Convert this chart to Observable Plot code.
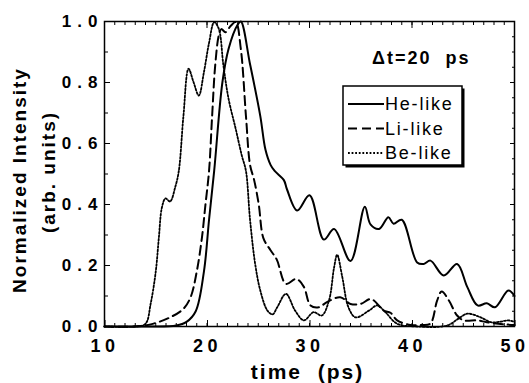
<!DOCTYPE html>
<html><head><meta charset="utf-8">
<script src="https://cdn.jsdelivr.net/npm/d3@7"></script>
<script src="https://cdn.jsdelivr.net/npm/@observablehq/plot@0.6"></script>
<style>
body{margin:0;background:#fff;}
#chart{width:529px;height:383px;}
</style></head><body><div id="chart"></div>
<script>
// He-like (solid)
const heTime=[10,14,17,18,18.9,19.7,20.2,20.7,21.5,22.1,23.0,23.3,24.2,25.2,25.7,26.2,26.6,27.5,27.8,28.8,30.0,31.4,32.4,34.0,35.4,35.95,36.8,37.7,38.2,39.0,40.5,41.15,41.8,43.1,44.4,45.4,46.4,47.3,48.1,49.4,50];
const heInt=[0,0,0.003,0.015,0.05,0.18,0.35,0.51,0.80,0.91,0.99,1.0,0.86,0.69,0.58,0.53,0.51,0.48,0.45,0.38,0.43,0.285,0.32,0.215,0.393,0.335,0.32,0.358,0.337,0.35,0.21,0.205,0.216,0.167,0.205,0.129,0.069,0.076,0.063,0.118,0.10];
// Li-like (dashed)
const liTime=[10,13,14.5,16.4,17.7,18.4,19.0,19.5,19.85,20.2,20.5,20.8,21.15,21.4,21.8,22.3,22.8,23.3,23.8,24.2,24.6,25.05,25.5,26.2,26.8,27.7,28.7,29.45,30.1,30.9,31.7,33.0,34.0,35.0,36.0,37.25,37.9,38.55,39.85,41.0,41.8,42.45,42.9,43.6,44.4,45.05,46.4,47.3,49.0,50];
const liInt=[0,0,0.007,0.03,0.058,0.096,0.18,0.29,0.40,0.51,0.69,0.856,0.954,0.975,0.965,0.985,0.998,0.91,0.69,0.53,0.48,0.40,0.29,0.25,0.22,0.14,0.156,0.13,0.069,0.063,0.08,0.096,0.074,0.074,0.09,0.052,0.045,0.02,0.005,0.005,0.01,0.085,0.115,0.085,0.036,0.02,0.02,0.014,0.007,0.005];
// Be-like (dotted)
const beTime=[10,13,14.0,14.5,15.0,15.3,15.6,15.95,16.4,16.9,17.25,17.7,18.2,18.7,19.2,19.7,20.2,20.7,21.15,21.6,22.1,22.8,23.4,23.8,24.2,24.7,25.2,25.9,26.4,26.85,27.7,28.6,29.45,30.4,31.2,31.9,32.4,32.7,33.2,33.8,34.5,35.8,36.6,37.4,38.55,40.5,43.4,44.5,45.4,46.7,47.7,48.5,49.4,50];
const beInt=[0,0,0.009,0.074,0.18,0.29,0.39,0.42,0.41,0.457,0.51,0.69,0.845,0.80,0.757,0.834,0.93,0.998,0.976,0.856,0.747,0.648,0.56,0.51,0.35,0.205,0.118,0.052,0.04,0.063,0.107,0.052,0.02,0.047,0.036,0.085,0.194,0.235,0.162,0.063,0.03,0.052,0.069,0.047,0.009,0.0,0.003,0.025,0.042,0.03,0.014,0.015,0.02,0.015];

const seriesNames=["He-like","Li-like","Be-like"];
const yMajor=[0,0.2,0.4,0.6,0.8,1.0];
const xMajor=[10,20,30,40,50];
const annotation="\u0394t=20\u00a0\u00a0ps";
const xLabel="time\u00a0\u00a0(ps)";
const yLabelLines=["Normalized Intensity","(arb. units)"];

const dashes={"He-like":null,"Li-like":"9,5","Be-like":"1.8,1.8"};
const widths={"He-like":2,"Li-like":2,"Be-like":1.8};

function rows(t,v,name){return t.map((x,i)=>({time:x,intensity:v[i],series:name}));}
const heRows=rows(heTime,heInt,"He-like");
const liRows=rows(liTime,liInt,"Li-like");
const beRows=rows(beTime,beInt,"Be-like");

const font="'Liberation Sans', Arial, Helvetica, sans-serif";
const blank=()=>"";

const plot=Plot.plot({
  width:529,height:383,
  marginLeft:104,marginRight:15,marginTop:21,marginBottom:57,
  style:{fontFamily:font,background:"#fff",overflow:"visible",color:"#000"},
  x:{domain:[10,50]},
  y:{domain:[0,1]},
  marks:[
    Plot.line(beRows,{x:"time",y:"intensity",stroke:"#000",strokeWidth:widths["Be-like"],strokeDasharray:dashes["Be-like"],curve:"catmull-rom"}),
    Plot.line(liRows,{x:"time",y:"intensity",stroke:"#000",strokeWidth:widths["Li-like"],strokeDasharray:dashes["Li-like"],curve:"catmull-rom"}),
    Plot.line(heRows,{x:"time",y:"intensity",stroke:"#000",strokeWidth:widths["He-like"],curve:"catmull-rom"}),
    Plot.frame({stroke:"#000",strokeWidth:1.5}),
    // left axis
    Plot.axisY(d3.range(0,1.0001,0.1),{anchor:"left",tickSize:-4,tickFormat:blank,label:null}),
    Plot.axisY(yMajor,{anchor:"left",tickSize:-6,tickPadding:7,tickFormat:d3.format(".1f"),fontSize:17,fontWeight:"bold",label:null}),
    // right axis
    Plot.axisY(d3.range(0,1.0001,0.05),{anchor:"right",tickSize:-3,tickFormat:blank,label:null}),
    Plot.axisY(yMajor,{anchor:"right",tickSize:-5,tickFormat:blank,label:null}),
    // top axis
    Plot.axisX(d3.range(10,50.0001,1),{anchor:"top",tickSize:-3,tickFormat:blank,label:null}),
    Plot.axisX(xMajor,{anchor:"top",tickSize:-6,tickFormat:blank,label:null}),
    // bottom axis
    Plot.axisX(d3.range(10,50.0001,1),{anchor:"bottom",tickSize:-3,tickFormat:blank,label:null}),
    Plot.axisX(xMajor,{anchor:"bottom",tickSize:-6,tickPadding:19,tickFormat:d=>String(d),fontSize:18,fontWeight:"bold",dx:0.5,label:null}),
    // x title
    Plot.text([xLabel],{frameAnchor:"bottom",dy:52,dx:-2,fontSize:21,fontWeight:"bold"}),
    // annotation
    Plot.text([annotation],{frameAnchor:"top-right",textAnchor:"end",lineAnchor:"bottom",dx:-44,dy:42,fontSize:18,fontWeight:"bold"})
  ]
});

const svg=d3.select(plot);
svg.selectAll('g[aria-label="y-axis tick label"] text').attr("letter-spacing","6px");
svg.selectAll('g[aria-label="x-axis tick label"] text').attr("letter-spacing","4.5px");
svg.selectAll('g[aria-label="text"] text').attr("letter-spacing","2px");

// y-axis title (two rotated lines)
const yt=svg.append("g").attr("class","y-title");
[[19,180],[48,172]].forEach(([cx,cy],i)=>{
  yt.append("text").attr("transform",`translate(${cx},${cy}) rotate(-90)`)
    .attr("text-anchor","middle").attr("dy","0.36em")
    .attr("font-family",font).attr("font-size",19).attr("font-weight","bold")
    .attr("letter-spacing","2px").attr("fill","#000").text(yLabelLines[i]);
});

// legend
const lg=svg.append("g").attr("class","legend");
const bx=343,by=86,bw=119,bh=79;
lg.append("rect").attr("x",bx+2.5).attr("y",by+2.5).attr("width",bw).attr("height",bh).attr("fill","#000");
lg.append("rect").attr("x",bx).attr("y",by).attr("width",bw).attr("height",bh).attr("fill","#fff").attr("stroke","#000").attr("stroke-width",1.5);
seriesNames.forEach((name,i)=>{
  const yy=by+18+i*24.5;
  lg.append("line").attr("x1",bx+5).attr("x2",bx+41).attr("y1",yy).attr("y2",yy)
    .attr("stroke","#000").attr("stroke-width",widths[name]).attr("stroke-dasharray",dashes[name]);
  lg.append("text").attr("x",bx+42).attr("y",yy).attr("dy","0.36em").attr("text-anchor","start")
    .attr("font-family",font).attr("font-size",18).attr("letter-spacing","1.8px").attr("fill","#000").text(name);
});

document.getElementById("chart").appendChild(plot);
</script></body></html>
